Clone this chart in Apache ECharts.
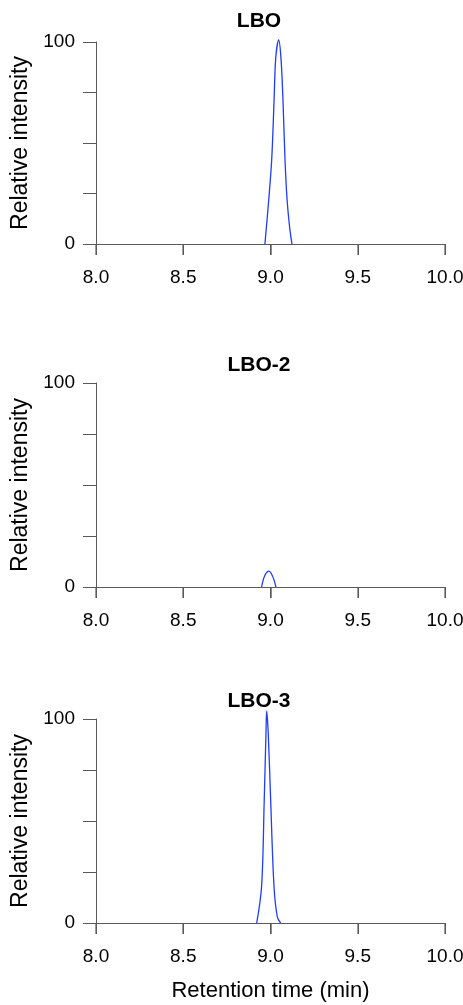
<!DOCTYPE html>
<html>
<head>
<meta charset="utf-8">
<script src="https://cdn.jsdelivr.net/npm/echarts@6/dist/echarts.min.js"></script>
<style>
  html, body { margin: 0; padding: 0; background: #fff; }
  #chart { width: 463px; height: 1005px; }
</style>
</head>
<body>
<div id="chart"></div>
<script>
// panel names
const panelNames = ["LBO", "LBO-2", "LBO-3"];

// x ticks (retention time, min)
const xTicks = [8.0, 8.5, 9.0, 9.5, 10.0];
// y tick labels shown (relative intensity)
const yTickLabels = [0, 100];

// peak traces
const lboTime      = [8.968, 8.990, 9.007, 9.020, 9.030, 9.047, 9.060, 9.072, 9.083, 9.095, 9.110, 9.123];
const lboIntensity = [0,     22,    42,    70,    92,    101,   92,    70,    42,    22,    8,     0];

const lbo2Time      = [8.949, 8.960, 8.975, 8.991, 9.005, 9.020, 9.031];
const lbo2Intensity = [0,     4,     6.8,   7.8,   6.5,   3.5,   0];

const lbo3Time      = [8.921, 8.949, 8.964, 8.974, 8.978, 8.987, 9.001, 9.020, 9.039, 9.058];
const lbo3Intensity = [0,     18,    60,    93,    104,   93,    60,    18,    3,     0];

const traces = [
    [lboTime, lboIntensity],
    [lbo2Time, lbo2Intensity],
    [lbo3Time, lbo3Intensity]
];

var chart = echarts.init(document.getElementById('chart'));

const font = "'Liberation Sans', Arial, sans-serif";
const axisColor = "#5a5a5a";
const gridTops = [42, 383, 719];
const gridHeights = [202, 204, 204];
const titleTops = [6, 350, 686];
const xTickLen = 11; // px

const grids = gridTops.map((t, i) => ({
    left: 96,
    width: 349,
    top: t,
    height: gridHeights[i],
    containLabel: false,
    outerBoundsMode: "none"
}));

const xAxes = panelNames.map((n, i) => ({
    type: "value",
    gridIndex: i,
    min: xTicks[0],
    max: xTicks[xTicks.length - 1],
    interval: 0.5,
    name: i === 2 ? "Retention time (min)" : "",
    nameLocation: "middle",
    nameGap: 57,
    nameTextStyle: { color: "#000", fontSize: 22, fontFamily: font },
    axisLine: { show: true, onZero: false, lineStyle: { color: axisColor, width: 1 } },
    axisTick: { show: true, inside: false, length: xTickLen, lineStyle: { color: axisColor, width: 1 } },
    axisLabel: {
        color: "#000", fontSize: 19, fontFamily: font, margin: 24,
        formatter: v => v.toFixed(1)
    },
    splitLine: { show: false }
}));

const yAxes = panelNames.map((n, i) => ({
    type: "value",
    gridIndex: i,
    min: 0,
    max: 100,
    interval: 25,
    name: "Relative intensity",
    nameLocation: "middle",
    nameGap: 61,
    nameTextStyle: { color: "#000", fontSize: 23, fontFamily: font },
    axisLine: { show: true, lineStyle: { color: axisColor, width: 1 } },
    axisTick: { show: true, length: 13, lineStyle: { color: axisColor } },
    axisLabel: {
        color: "#000", fontSize: 19, fontFamily: font, margin: 21,
        formatter: v => yTickLabels.includes(v) ? String(v) : ""
    },
    splitLine: { show: false }
}));

const series = traces.map((tr, i) => ({
    type: "line",
    xAxisIndex: i,
    yAxisIndex: i,
    data: tr[0].map((t, k) => [t, tr[1][k]]),
    smooth: 0.35,
    showSymbol: false,
    clip: false,
    lineStyle: { color: "#1f3cff", width: 1.3 },
    silent: true
}));

chart.setOption({
    animation: false,
    title: panelNames.map((n, i) => ({
        text: n,
        left: 254,
        textAlign: "center",
        top: titleTops[i],
        textStyle: { color: "#000", fontSize: 21, fontWeight: "bold", fontFamily: font }
    })),
    grid: grids,
    xAxis: xAxes,
    yAxis: yAxes,
    series: series
});

// x-axis ticks as thin filled rects, placed through the axes' own scales
function drawXTicks() {
    const els = [];
    panelNames.forEach((n, i) => {
        const y0 = chart.convertToPixel({ yAxisIndex: i }, 0);
        xTicks.forEach(t => {
            const x = Math.round(chart.convertToPixel({ xAxisIndex: i }, t));
            els.push({
                type: "rect",
                silent: true,
                z: 100,
                shape: { x: x - 0.6, y: y0, width: 1.3, height: xTickLen },
                style: { fill: axisColor }
            });
        });
    });
    chart.setOption({ graphic: { elements: els } });
}
drawXTicks();

window.addEventListener("resize", () => {
    if (chart) {
        chart.resize();
        drawXTicks();
    }
});
</script>
</body>
</html>
